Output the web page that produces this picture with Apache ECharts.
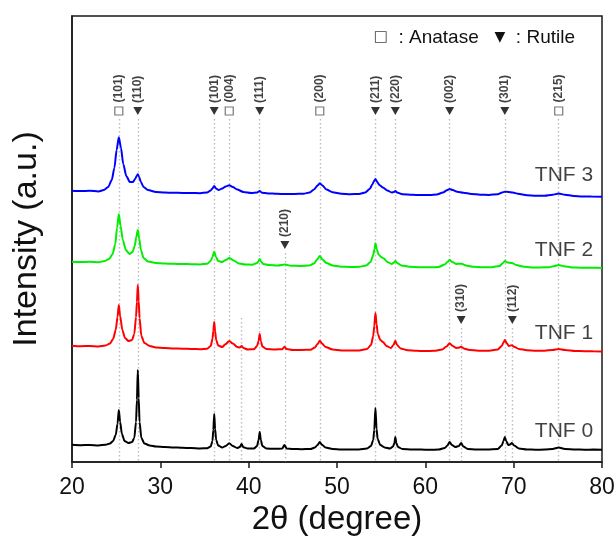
<!DOCTYPE html>
<html>
<head>
<meta charset="utf-8">
<script src="https://cdn.jsdelivr.net/npm/echarts@6/dist/echarts.min.js"></script>
<style>
  html, body { margin: 0; padding: 0; background: #fff; }
  #chart { width: 616px; height: 536px; }
</style>
</head>
<body>
<div id="chart"></div>
<script>
// XRD patterns of the TNF samples, stacked with a vertical offset (arbitrary units)
const tnf0 = [[20,17.2],[21,16.8],[22,17.1],[23,16.6],[23.8,17.2],[24.3,18.5],[24.65,21],[24.95,27],[25.15,38],[25.3,52],[25.45,40],[25.65,28],[25.95,21],[26.4,19],[26.8,20],[27.05,24],[27.25,40],[27.35,62],[27.45,92],[27.55,64],[27.65,40],[27.85,24],[28.2,18.5],[28.8,16.5],[29.5,15.5],[30.5,15],[31.5,14.6],[32.5,14.2],[33.5,14],[34.5,13.6],[35.3,13.8],[35.7,15.5],[35.9,21],[36.0,32],[36.1,48],[36.2,33],[36.32,22],[36.55,16.5],[37.0,14.5],[37.4,16],[37.8,18.7],[38.2,16],[38.7,14],[39.0,15],[39.2,18],[39.4,14.8],[39.9,13.5],[40.6,13.5],[40.95,16],[41.12,22],[41.25,30],[41.38,22],[41.55,16],[42.0,13.5],[43,13.2],[43.8,13.5],[44.05,17],[44.3,13.5],[45,13],[46,12.8],[47,13],[47.5,14.5],[47.8,17],[48.05,20],[48.3,17.2],[48.7,14.5],[49.5,13],[50.5,12.6],[51.5,12.5],[52.5,12.6],[53.4,13.5],[53.85,16],[54.1,22],[54.22,32],[54.35,54],[54.48,33],[54.6,23],[54.9,17],[55.4,14.5],[56.0,13.5],[56.35,15.5],[56.5,19],[56.6,25],[56.72,19],[56.9,15],[57.4,13],[58.5,12.5],[59.5,12.4],[60.5,12.3],[61.5,12.4],[62.2,14],[62.5,16.5],[62.75,20],[63.0,17],[63.4,15],[63.8,16],[64.05,19],[64.3,15.5],[64.8,13],[65.8,12.5],[67,12.4],[68.2,13],[68.65,16.5],[68.85,21],[69.0,25],[69.15,21],[69.4,17],[69.6,17.5],[69.8,19],[70.05,16.5],[70.6,13.5],[71.5,12.5],[72.5,12.3],[73.5,12.4],[74.4,13],[75.1,14.5],[75.8,13],[77,12.5],[78,12.3],[79,12.4],[80,12.2]];

const tnf1 = [[20,116.3],[21,115.8],[22,116.1],[23,115.6],[23.8,116.5],[24.3,118.5],[24.65,123],[24.95,132],[25.15,145],[25.3,157],[25.45,146],[25.7,132],[26.0,124],[26.4,121],[26.8,122],[27.05,128],[27.25,145],[27.35,160],[27.45,177],[27.55,161],[27.65,144],[27.85,126],[28.2,119],[28.8,116],[29.5,114.5],[30.5,114],[31.5,113.6],[32.5,113.3],[33.5,113],[34.5,112.8],[35.3,113.2],[35.7,116],[35.9,123],[36.0,131],[36.1,140],[36.2,131],[36.32,122],[36.55,116.5],[37.0,115],[37.4,118],[37.8,121],[38.2,118.5],[38.7,115],[39.0,114.5],[39.2,116],[39.4,114],[39.9,112.5],[40.6,112.8],[40.95,116],[41.12,121],[41.25,128],[41.38,121],[41.55,115.5],[42.0,113],[43,112.5],[43.8,112.8],[44.05,115.3],[44.3,113],[45,112],[46,112],[47,112.3],[47.5,114.5],[47.8,118],[48.05,121.3],[48.3,118.5],[48.7,115],[49.5,112.5],[50.5,111.6],[51.5,111.4],[52.5,111.6],[53.4,113],[53.85,117],[54.1,126],[54.22,136],[54.35,149],[54.48,138],[54.62,128],[54.9,122],[55.2,120],[55.6,116],[56.1,114],[56.4,117],[56.6,121.3],[56.8,117],[57.2,113.5],[58,111.8],[59,111.2],[60,111],[61,111.2],[61.9,112.5],[62.4,115.5],[62.75,118.7],[63.1,116],[63.5,114],[63.8,114.3],[64.05,115.3],[64.35,113.5],[65,112],[66,111.3],[67,111.2],[68.2,112.5],[68.65,116],[68.85,119.5],[69.0,122],[69.2,119],[69.45,116],[69.8,116.7],[70.1,115],[70.6,113],[71.5,111.8],[72.5,111.3],[73.5,111.3],[74.4,112],[75.1,113],[75.8,112],[77,111],[78,110.8],[79,110.7],[80,110.5]];

const tnf2 = [[20,200.3],[21,200],[22,200.2],[23,199.8],[23.7,201],[24.2,203],[24.6,208],[24.9,218],[25.1,234],[25.3,248],[25.5,236],[25.75,222],[26.1,212],[26.5,208],[26.85,210],[27.1,216],[27.28,225],[27.45,232],[27.62,223],[27.8,212],[28.1,204],[28.6,200.5],[29.5,199],[30.5,198.5],[31.5,198.2],[32.5,198],[33.5,197.8],[34.5,197.6],[35.3,198.2],[35.7,201],[35.9,205],[36.1,210.3],[36.3,205],[36.55,201],[37.0,200],[37.4,202],[37.8,204],[38.3,201.5],[38.9,198.5],[39.6,197.5],[40.4,197.3],[40.95,199],[41.12,201],[41.25,203],[41.4,200.5],[41.65,198],[42.3,197],[43.3,196.5],[44.1,197.5],[44.8,196.3],[45.8,196],[46.8,196.4],[47.4,198.5],[47.75,202.5],[48.05,206],[48.35,202.5],[48.8,199],[49.5,196.5],[50.5,195.3],[51.5,195],[52.5,195.2],[53.3,196.5],[53.8,200],[54.1,207],[54.25,213],[54.35,218.7],[54.5,213],[54.7,207.5],[55.0,205],[55.3,203.5],[55.7,200],[56.2,198],[56.45,199.5],[56.6,201],[56.8,199],[57.3,196.5],[58.2,195.3],[59.5,194.8],[60.5,194.7],[61.5,195],[62.2,197.5],[62.5,200],[62.75,202],[63.05,200],[63.5,198],[64.1,198.3],[64.6,196.5],[65.5,195.2],[66.5,194.8],[67.5,194.8],[68.4,196],[68.8,199],[69.0,201],[69.3,199.5],[69.8,199],[70.3,197],[71,195.5],[72,194.6],[73,194.5],[74,194.8],[74.6,196],[75.1,197],[75.7,195.8],[76.6,194.6],[77.6,194.3],[78.6,194.2],[79.4,194.3],[80,194]];

const tnf3 = [[20,271.3],[21,271],[22,271.2],[23,270.6],[23.6,272],[24.1,275],[24.5,282],[24.8,294],[25.05,312],[25.3,324.7],[25.55,314],[25.8,298],[26.15,286],[26.55,280],[26.9,280],[27.15,283],[27.32,286],[27.45,287.7],[27.6,285],[27.8,280],[28.1,275],[28.6,272],[29.5,270],[30.5,269.4],[31.5,269.3],[32.5,269.1],[33.5,269],[34.5,268.8],[35.3,269.5],[35.7,271.5],[35.9,273.5],[36.1,276],[36.3,273.5],[36.6,272],[37.0,273.5],[37.4,275.5],[37.8,276.7],[38.2,275],[38.7,272.5],[39.4,270],[40.3,269],[40.95,269.5],[41.25,271],[41.5,269.3],[42.2,268.6],[43.2,268.2],[44.2,268],[45.2,268],[46.2,268.3],[46.9,269.5],[47.4,272.5],[47.8,276.5],[48.05,278.7],[48.35,276.5],[48.8,272.5],[49.5,269.8],[50.5,268.2],[51.5,267.8],[52.5,268],[53.2,269.5],[53.7,273],[54.0,277.5],[54.2,281],[54.35,283],[54.55,280],[54.8,277],[55.2,274.5],[55.7,271.5],[56.2,269.5],[56.45,270],[56.6,271],[56.8,269.5],[57.4,267.8],[58.5,267.2],[59.5,267],[60.5,267],[61.3,267.6],[62.0,269.5],[62.45,271.8],[62.75,273],[63.1,272],[63.6,270.3],[64.3,269.3],[65.2,268],[66.2,267.3],[67.2,267],[68.2,267.8],[68.7,269.5],[69.0,270.3],[69.4,270],[69.9,269.5],[70.5,268.2],[71.5,266.8],[72.5,266.2],[73.5,266.2],[74.4,267.2],[75.1,268.5],[75.8,267.3],[76.8,266],[77.8,265.6],[78.8,265.5],[80,265.3]];

const sampleNames = ['TNF 0', 'TNF 1', 'TNF 2', 'TNF 3'];

// Reflection positions (2θ) and Miller indices
const anatasePeaks = [25.3, 37.8, 48.05, 75.1];
const anataseHkl = ['(101)', '(004)', '(200)', '(215)'];
const rutilePeaks = [27.45, 36.1, 41.25, 54.35, 56.6, 62.75, 69.0];
const rutileHkl = ['(110)', '(101)', '(111)', '(211)', '(220)', '(002)', '(301)'];
const rutileMinorPeaks = [44.1, 64.05, 69.85];
const rutileMinorHkl = ['(210)', '(310)', '(112)'];
const extraGuides = [39.2];

const xTicks = [20, 30, 40, 50, 60, 70, 80];

// ---- layout / style ----
const colors = ['#000000', '#ff0000', '#00ee00', '#0000ff'];
const markerLevel = 351;          // height of the top row of phase markers
const minorLevels = [217, 142, 142];
const extraGuideTop = 144;
const guideGap = 8;
const labelAnchor = [[79, 31], [79, 128.5], [79, 212], [79, 287]];

const guideStyle = { color: '#7a7a7a', width: 1.4, type: [1.6, 2.4] };

function guides(xs, tops) {
  return xs.map((x, i) => ({ coords: [[x, tops[i]], [x, 0]] }));
}

const guideData = []
  .concat(guides(anatasePeaks, anatasePeaks.map(() => markerLevel - guideGap)))
  .concat(guides(rutilePeaks, rutilePeaks.map(() => markerLevel - guideGap)))
  .concat(guides(rutileMinorPeaks, minorLevels.map(v => v - guideGap)))
  .concat(guides(extraGuides, [extraGuideTop]));

const hklLabel = {
  show: true,
  position: 'top',
  distance: 4,
  rotate: 90,
  align: 'left',
  verticalAlign: 'middle',
  fontFamily: 'Liberation Sans, Arial, sans-serif',
  fontWeight: 'bold',
  fontSize: 12,
  color: '#111',
  formatter: p => p.data.name
};

const chart = echarts.init(document.getElementById('chart'), null, { renderer: 'canvas' });

const traceSeries = [tnf0, tnf1, tnf2, tnf3].map((d, i) => ({
  name: sampleNames[i],
  type: 'line',
  data: d,
  showSymbol: false,
  smooth: 0.25,
  smoothMonotone: 'x',
  lineStyle: { color: colors[i], width: 2 },
  itemStyle: { color: colors[i] },
  z: 5,
  animation: false
}));

const option = {
  animation: false,
  backgroundColor: '#fff',
  grid: {
    left: 72, right: 14, top: 16, bottom: 74,
    containLabel: false,
    outerBoundsMode: 'none',
    show: true, borderColor: '#1a1a1a', borderWidth: 1.5, backgroundColor: 'transparent'
  },
  xAxis: {
    type: 'value',
    min: xTicks[0], max: xTicks[xTicks.length - 1], interval: 10,
    name: '2θ (degree)',
    nameLocation: 'middle',
    nameGap: 40,
    nameTextStyle: { fontSize: 33, color: '#111', fontFamily: 'Liberation Sans, Arial, sans-serif' },
    axisLine: { show: true, onZero: false, lineStyle: { color: '#1a1a1a', width: 1.5 } },
    axisTick: { show: true, inside: false, length: 6, lineStyle: { color: '#1a1a1a', width: 1.5 } },
    axisLabel: { fontSize: 23, color: '#111', margin: 14, fontFamily: 'Liberation Sans, Arial, sans-serif' },
    splitLine: { show: false }
  },
  yAxis: {
    type: 'value',
    min: 0, max: 446,
    name: 'Intensity (a.u.)',
    nameLocation: 'middle',
    nameGap: 28,
    nameTextStyle: { fontSize: 34, color: '#111', fontFamily: 'Liberation Sans, Arial, sans-serif' },
    axisLine: { show: true, lineStyle: { color: '#1a1a1a', width: 1.5 } },
    axisTick: { show: false },
    axisLabel: { show: false },
    splitLine: { show: false }
  },
  graphic: [{
    type: 'text',
    right: 41,
    top: 28,
    style: {
      text: '{sq|□}  : Anatase   {tri|▼}  : Rutile',
      font: '19px "Liberation Sans", Arial, sans-serif',
      fill: '#111',
      rich: {
        sq: { fontSize: 15, fill: '#444', fontFamily: 'DejaVu Sans' },
        tri: { fontSize: 14, fill: '#111', fontFamily: 'DejaVu Sans' }
      }
    }
  }],
  series: [
    {
      name: 'guides',
      type: 'lines',
      coordinateSystem: 'cartesian2d',
      polyline: false,
      data: guideData,
      lineStyle: guideStyle,
      silent: true,
      z: 1
    },
    {
      name: 'anatase',
      type: 'scatter',
      symbol: 'rect',
      symbolSize: 8,
      itemStyle: { color: '#fff', borderColor: '#555', borderWidth: 1.2 },
      data: anatasePeaks.map((x, i) => ({ value: [x, markerLevel], name: anataseHkl[i] })),
      label: hklLabel,
      z: 3
    },
    {
      name: 'rutile',
      type: 'scatter',
      symbol: 'triangle',
      symbolRotate: 180,
      symbolSize: [9, 8],
      itemStyle: { color: '#000' },
      data: rutilePeaks.map((x, i) => ({ value: [x, markerLevel], name: rutileHkl[i] }))
        .concat(rutileMinorPeaks.map((x, i) => ({ value: [x, minorLevels[i]], name: rutileMinorHkl[i] }))),
      label: hklLabel,
      z: 3
    },
    ...traceSeries,
    {
      name: 'sample labels',
      type: 'scatter',
      symbolSize: 0,
      data: labelAnchor.map((p, i) => ({ value: p, name: sampleNames[i] })),
      label: {
        show: true,
        position: 'left',
        distance: 0,
        align: 'right',
        verticalAlign: 'middle',
        fontSize: 21,
        color: '#111',
        fontFamily: 'Liberation Sans, Arial, sans-serif',
        formatter: p => p.data.name
      },
      z: 6
    }
  ]
};

chart.setOption(option);
</script>
</body>
</html>
